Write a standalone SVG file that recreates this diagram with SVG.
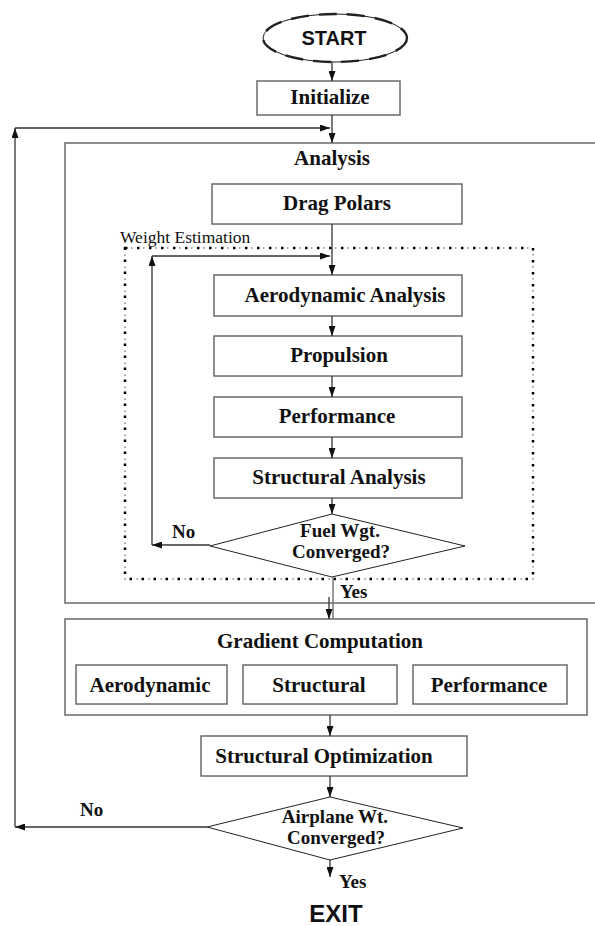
<svg xmlns="http://www.w3.org/2000/svg" width="595" height="926" viewBox="0 0 595 926">
<style>
.box{fill:#fff;stroke:#6a6a6a;stroke-width:1.5}
.frame{fill:none;stroke:#6a6a6a;stroke-width:1.5}
.dia{fill:#fff;stroke:#222;stroke-width:1}
.lbl{font-family:"Liberation Serif","Times New Roman",serif;font-weight:bold;font-size:21px;fill:#111;text-anchor:middle}
.dl{font-family:"Liberation Serif","Times New Roman",serif;font-weight:bold;font-size:19px;fill:#111;text-anchor:middle}
.sm{font-family:"Liberation Serif","Times New Roman",serif;font-weight:bold;font-size:19px;fill:#111}
.reg{font-family:"Liberation Serif","Times New Roman",serif;font-size:17.5px;fill:#111}
.sans{font-family:"Liberation Sans",Arial,sans-serif;font-weight:bold;fill:#111;text-anchor:middle}
.c{fill:none;stroke:#333;stroke-width:1.3}
.ca{fill:none;stroke:#333;stroke-width:1.3;marker-end:url(#ah)}
</style>
<defs>
<marker id="ah" markerUnits="userSpaceOnUse" markerWidth="10" markerHeight="7" refX="10" refY="3.5" orient="auto">
<path d="M0,0 L10,3.5 L0,7 z" fill="#111"/>
</marker>
</defs>
<rect width="595" height="926" fill="#fff"/>

<g id="start">
<ellipse cx="335" cy="38" rx="72" ry="24" fill="#fff" stroke="#222" stroke-width="1"/>
<ellipse cx="335" cy="38" rx="72" ry="24" fill="none" stroke="#222" stroke-width="2.4" stroke-dasharray="18 10"/>
<text class="sans" x="334" y="45" font-size="20">START</text>
</g>

<g id="initialize">
<rect class="box" x="257" y="81" width="143" height="34"/>
<text class="lbl" x="330" y="104">Initialize</text>
</g>

<g id="analysis">
<rect class="frame" x="65" y="143" width="545" height="460"/>
<text class="lbl" x="332" y="165">Analysis</text>
</g>

<g id="drag-polars">
<rect class="box" x="212" y="184" width="250" height="40"/>
<text class="lbl" x="337" y="210">Drag Polars</text>
</g>

<g id="weight-estimation">
<rect x="125" y="248" width="408" height="331" fill="none" stroke="#888" stroke-width="1.5" stroke-dasharray="1.5 4.5"/>
<rect x="125" y="248" width="408" height="331" fill="none" stroke="#000" stroke-width="2.5" stroke-dasharray="2.5 9.5"/>
<text class="reg" x="120" y="243">Weight Estimation</text>
</g>

<g id="aero-analysis">
<rect class="box" x="214" y="275" width="248" height="41"/>
<text class="lbl" x="345" y="302">Aerodynamic Analysis</text>
</g>

<g id="propulsion">
<rect class="box" x="214" y="336" width="248" height="40"/>
<text class="lbl" x="339" y="362">Propulsion</text>
</g>

<g id="performance">
<rect class="box" x="214" y="397" width="248" height="40"/>
<text class="lbl" x="337" y="423">Performance</text>
</g>

<g id="structural-analysis">
<rect class="box" x="214" y="458" width="248" height="40"/>
<text class="lbl" x="339" y="484">Structural Analysis</text>
</g>

<g id="fuel-converged">
<polygon class="dia" points="332,514 465,546 332,577 210,546"/>
<text class="dl" x="340" y="537">Fuel Wgt.</text>
<text class="dl" x="341" y="558">Converged?</text>
</g>

<g id="gradient">
<rect class="frame" x="65" y="619" width="522" height="96"/>
<text class="lbl" x="320" y="648">Gradient Computation</text>
<rect class="box" x="76" y="665" width="151" height="39"/>
<text class="lbl" x="150" y="692">Aerodynamic</text>
<rect class="box" x="243" y="665" width="154" height="39"/>
<text class="lbl" x="319" y="692">Structural</text>
<rect class="box" x="413" y="665" width="154" height="39"/>
<text class="lbl" x="489" y="692">Performance</text>
</g>

<g id="structural-optimization">
<rect class="box" x="201" y="736" width="266" height="40"/>
<text class="lbl" x="324" y="763">Structural Optimization</text>
</g>

<g id="airplane-converged">
<polygon class="dia" points="330,797 463,828 330,860 207,827"/>
<text class="dl" x="335" y="823">Airplane Wt.</text>
<text class="dl" x="336" y="844">Converged?</text>
</g>

<g id="exit">
<text class="sans" x="336" y="922" font-size="24">EXIT</text>
</g>

<g id="connectors">
<line class="ca" x1="332" y1="62" x2="332" y2="81"/>
<line class="ca" x1="332" y1="115" x2="332" y2="143"/>
<polyline class="ca" points="207,827 15,827"/>
<polyline class="ca" points="15,827 15,128"/>
<polyline class="ca" points="15,128 330,128"/>
<line class="ca" x1="332" y1="224" x2="332" y2="275"/>
<polyline class="ca" points="210,545 152,545"/>
<polyline class="ca" points="152,545 152,256"/>
<polyline class="ca" points="152,256 330,256"/>
<line class="ca" x1="332" y1="316" x2="332" y2="336"/>
<line class="ca" x1="332" y1="376" x2="332" y2="397"/>
<line class="ca" x1="332" y1="437" x2="332" y2="458"/>
<line class="ca" x1="332" y1="498" x2="332" y2="514"/>
<line x1="333" y1="577" x2="333" y2="619" stroke="#777" stroke-width="1.5"/>
<line class="ca" x1="329" y1="597" x2="329" y2="619"/>
<line class="ca" x1="330" y1="715" x2="330" y2="736"/>
<line class="ca" x1="330" y1="776" x2="330" y2="797"/>
<line class="ca" x1="330" y1="860" x2="330" y2="877"/>
<text class="sm" x="172" y="538">No</text>
<text class="sm" x="340" y="598">Yes</text>
<text class="sm" x="80" y="816">No</text>
<text class="sm" x="339" y="888">Yes</text>
</g>
</svg>
